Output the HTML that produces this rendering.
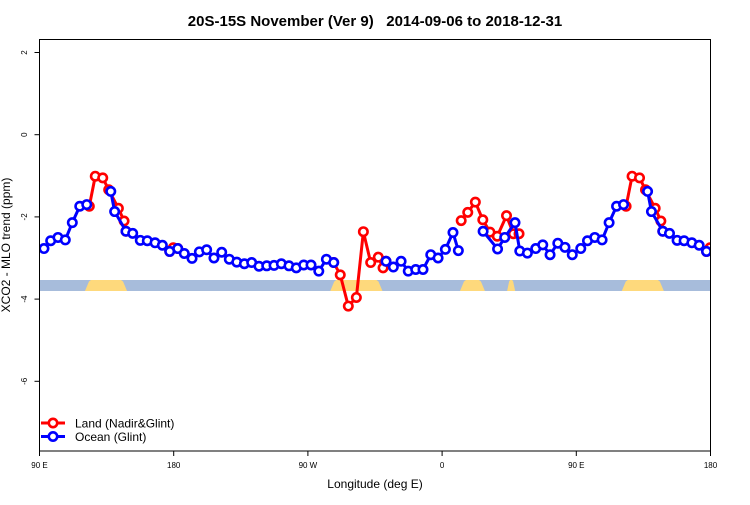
<!DOCTYPE html>
<html><head><meta charset="utf-8"><style>
html,body{margin:0;padding:0;background:#fff}
svg text{font-family:"Liberation Sans",Arial,sans-serif}
</style></head><body>
<svg id="chart" width="750" height="500" viewBox="0 0 750 500">
<defs><clipPath id="pc"><rect x="39.5" y="39.5" width="671" height="411.5"/></clipPath></defs>
<text x="375" y="26" text-anchor="middle" font-size="15" font-weight="bold" style="white-space:pre">20S-15S November (Ver 9)   2014-09-06 to 2018-12-31</text>
<g id="band"></g>
<g id="plot" clip-path="url(#pc)"></g>
<rect x="39.5" y="39.5" width="671" height="411.5" fill="none" stroke="#000" stroke-width="1"/>
<g id="axes"></g>
<text transform="translate(10,245) rotate(-90)" text-anchor="middle" font-size="12">XCO2 - MLO trend (ppm)</text>
<text x="375" y="488" text-anchor="middle" font-size="12">Longitude (deg E)</text>
<g>
<g>
<line x1="41" y1="423" x2="65" y2="423" stroke="#f00" stroke-width="3"/>
<circle cx="53" cy="423" r="4.2" fill="#fff" stroke="#f00" stroke-width="2.6"/>
<text x="75" y="427.5" font-size="12">Land (Nadir&amp;Glint)</text></g>
<g>
<line x1="41" y1="436.5" x2="65" y2="436.5" stroke="#00f" stroke-width="3"/>
<circle cx="53" cy="436.5" r="4.2" fill="#fff" stroke="#00f" stroke-width="2.6"/>
<text x="75" y="441" font-size="12">Ocean (Glint)</text></g>
</g>
</svg>
<script>
// one longitude cycle (90..450 deg, continuous); repeated +360 up to 540
const oceanLon=[93.0,97.5,102.4,107.3,112.0,117.0,121.7,null,137.8,140.4,148.0,152.5,157.6,162.3,167.5,172.4,177.3,182.7,187.1,192.3,197.2,202.1,207.0,212.2,217.3,222.3,227.4,232.3,237.2,242.4,247.3,252.2,257.3,262.2,267.2,272.1,277.3,282.4,287.3,null,322.4,327.3,332.5,337.3,342.3,347.2,352.4,357.3,362.2,367.3,370.9,null,387.5,397.2,402.0,408.9,412.1,417.2,422.8,427.5,432.4,437.6,442.4,447.3];
const oceanVal=[-2.77,-2.58,-2.50,-2.56,-2.14,-1.74,-1.70,null,-1.38,-1.87,-2.35,-2.40,-2.57,-2.58,-2.63,-2.69,-2.84,-2.77,-2.89,-3.01,-2.85,-2.80,-3.00,-2.86,-3.03,-3.10,-3.14,-3.11,-3.20,-3.19,-3.18,-3.14,-3.19,-3.24,-3.17,-3.17,-3.32,-3.03,-3.11,null,-3.08,-3.22,-3.08,-3.32,-3.28,-3.28,-2.92,-3.00,-2.79,-2.38,-2.82,null,-2.35,-2.78,-2.50,-2.14,-2.83,-2.88,-2.77,-2.68,-2.92,-2.64,-2.74,-2.92];
const landLon=[123.4,127.4,132.4,136.4,142.9,146.7,148.0,null,177.3,179.7,182.7,null,287.3,291.7,297.1,302.5,307.2,312.1,317.2,320.4,322.4,null,372.8,377.2,382.3,387.3,392.1,397.0,403.2,407.8,411.6];
const landVal=[-1.74,-1.01,-1.05,-1.34,-1.79,-2.10,-2.35,null,-2.84,-2.75,-2.77,null,-3.11,-3.41,-4.17,-3.96,-2.36,-3.11,-2.98,-3.24,-3.08,null,-2.09,-1.89,-1.64,-2.07,-2.37,-2.47,-1.97,-2.41,-2.41];
const yTicks=[2,0,-2,-4,-6];
const xTicks=[90,180,270,360,450,540];
const xTickLabels=["90 E","180","90 W","0","90 E","180"];
// land (yellow) longitude ranges within the surface band, one cycle
const landBandStart=[120.5,285,372,403.6];
const landBandEnd=[148.7,320,388.7,409];

const NS='http://www.w3.org/2000/svg';
const X0=39.5,X1=710.5,LON0=90,LON1=540;
const xs=l=>X0+(l-LON0)*(X1-X0)/(LON1-LON0);
const ys=v=>134.7-v*41.1;
function mk(tag,attrs,parent){const e=document.createElementNS(NS,tag);for(const k in attrs)e.setAttribute(k,attrs[k]);parent.appendChild(e);return e;}
const plot=document.getElementById('plot'),axes=document.getElementById('axes'),band=document.getElementById('band');

const br=mk('rect',{x:X0,y:280,width:X1-X0,height:11,fill:'#a7bcdb'},band);


for(const off of [0,360]){
  for(let i=0;i<landBandStart.length;i++){
    let a=landBandStart[i]+off,b=landBandEnd[i]+off;
    if(a>LON1)continue; b=Math.min(b,LON1);
    const xa=xs(a),xb=xs(b),w=xb-xa,ins=Math.min(4,w/4);
    const p=mk('polygon',{points:`${xa},291 ${xa+ins},281.5 ${xa+ins*1.5},280 ${xb-ins*1.5},280 ${xb-ins},281.5 ${xb},291`,fill:'#fed97c'},band);
    
    
  }
}

function drawSeries(lons,vals,color,name){
  for(const off of [0,360]){
    let segs=[],cur=[];
    for(let i=0;i<lons.length;i++){
      if(lons[i]===null){if(cur.length)segs.push(cur);cur=[];continue;}
      const l=lons[i]+off; if(l>LON1+1)continue;
      cur.push([xs(l),ys(vals[i])]);
    }
    if(cur.length)segs.push(cur);
    for(const s of segs){
      const pl=mk('polyline',{points:s.map(p=>p.join(',')).join(' '),fill:'none',stroke:color,'stroke-width':3,'stroke-linejoin':'round'},plot);
      
      
      for(const p of s){
        const c=mk('circle',{cx:p[0],cy:p[1],r:4.2,fill:'#fff',stroke:color,'stroke-width':2.6},plot);
        
        
      }
    }
  }
}
drawSeries(landLon,landVal,'#f00','land');
drawSeries(oceanLon,oceanVal,'#00f','ocean');

yTicks.forEach(v=>{
  const y=ys(v);
  const t=mk('line',{x1:X0-5,y1:y,x2:X0,y2:y,stroke:'#000'},axes);
  
  
  const tx=mk('text',{transform:`translate(27,${y}) rotate(-90)`,'text-anchor':'middle','font-size':8},axes);
  tx.textContent=String(v);
  
  
});
xTicks.forEach((l,i)=>{
  const x=xs(l);
  const t=mk('line',{x1:x,y1:451,x2:x,y2:456,stroke:'#000'},axes);
  
  
  const tx=mk('text',{x:x,y:468,'text-anchor':'middle','font-size':8},axes);
  tx.textContent=xTickLabels[i];
  
  
});
</script>
</body></html>
